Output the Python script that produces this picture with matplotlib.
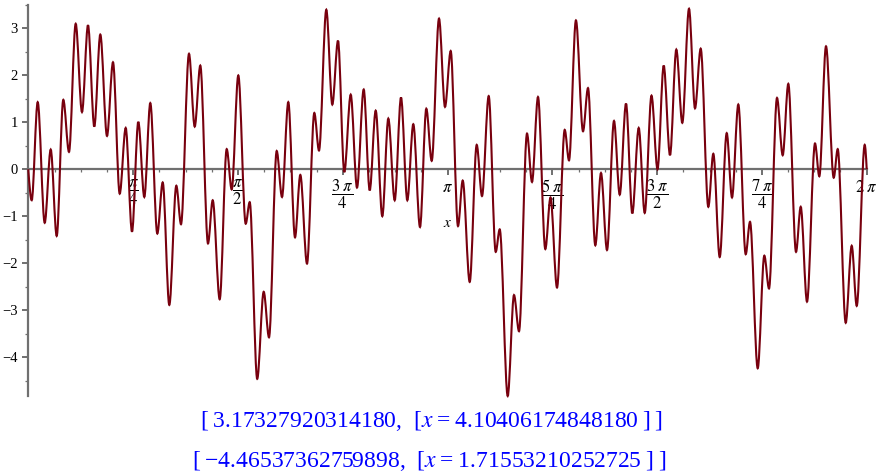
import numpy as np
import matplotlib
matplotlib.use('Agg')
import matplotlib.pyplot as plt
from matplotlib.path import Path
from matplotlib.patches import PathPatch

plt.rcParams['mathtext.fontset'] = 'stix'

# Local extrema of the curve (x in radians)
x_ext = [0.0, 0.0255, 0.0704, 0.1229, 0.1679, 0.2128, 0.2623, 0.3050, 0.3552, 0.4024,
         0.4474, 0.4946, 0.5396, 0.5898, 0.6348, 0.6850, 0.7299, 0.7772, 0.8244, 0.8694,
         0.9143, 0.9668, 1.0073, 1.0567, 1.1092, 1.1444, 1.2043, 1.2471, 1.2890, 1.3467,
         1.3820, 1.4344, 1.4869, 1.5244, 1.5738, 1.6293, 1.6593, 1.7155, 1.7642, 1.8039,
         1.8616, 1.9013, 1.9485, 1.9988, 2.0385, 2.0887, 2.1434, 2.1786, 2.2333, 2.2783,
         2.3210, 2.3682, 2.4162, 2.4634, 2.5136, 2.5586, 2.6035, 2.6530, 2.6980, 2.7459,
         2.7932, 2.8404, 2.8853, 2.9355, 2.9828, 3.0232, 3.0780, 3.1229, 3.1656, 3.2203,
         3.2556, 3.3080, 3.3605, 3.4002, 3.4504, 3.5029, 3.5329, 3.5928, 3.6400, 3.6775,
         3.7375, 3.7749, 3.8199, 3.8746, 3.9136, 3.9623, 4.0200, 4.0522, 4.1041, 4.1572,
         4.1946, 4.2493, 4.2920, 4.3370, 4.3894, 4.4322, 4.4794, 4.5266, 4.5746, 4.6196,
         4.6705, 4.7155, 4.7619, 4.8091, 4.8564, 4.9013, 4.9515, 4.9965, 5.0392, 5.0962,
         5.1337, 5.1816, 5.2341, 5.2738, 5.3210, 5.3765, 5.4087, 5.4664, 5.5159, 5.5511,
         5.6110, 5.6537, 5.6957, 5.7535, 5.7887, 5.8359, 5.8958, 5.9281, 5.9782, 6.0360,
         6.0660, 6.1259, 6.1709, 6.2084, 6.2683, 6.2832]
y_ext = [0.0, -0.66, 1.43, -1.14, 0.42, -1.42, 1.48, 0.37, 3.10, 1.22,
         3.07, 0.91, 2.87, 0.71, 2.28, -0.52, 0.88, -1.33, 1.01, -0.59,
         1.41, -1.37, -0.28, -2.89, -0.35, -1.17, 2.46, 0.91, 2.21, -1.58,
         -0.66, -2.77, 0.43, -0.43, 2.00, -1.16, -0.70, -4.465, -2.61, -3.58,
         0.39, -0.59, 1.43, -1.45, -0.12, -2.01, 1.20, 0.40, 3.40, 1.38,
         2.74, -0.06, 1.59, -0.39, 1.70, -0.45, 1.25, -1.00, 1.08, -0.66,
         1.53, -0.66, 0.96, -1.23, 1.29, 0.18, 3.21, 1.33, 2.52, -1.21,
         -0.24, -2.40, 0.52, -0.57, 1.56, -1.76, -1.28, -4.83, -2.68, -3.45,
         0.76, -0.27, 1.54, -1.70, -0.60, -2.52, 0.84, 0.19, 3.173, 0.81,
         1.73, -1.62, -0.08, -1.72, 1.03, -0.54, 1.40, -0.94, 0.88, -0.93,
         1.57, 0.00, 2.21, 0.30, 2.55, 0.99, 3.42, 1.30, 2.57, -0.80,
         0.33, -1.87, 0.77, -0.60, 1.38, -1.81, -1.12, -4.24, -1.84, -2.54,
         1.52, 0.30, 1.82, -1.76, -0.80, -2.82, 0.55, -0.15, 2.62, -0.18,
         0.43, -3.27, -1.63, -2.91, 0.52, 0.0]

xtick_labels = [r'$\dfrac{\pi}{4}$', r'$\dfrac{\pi}{2}$', r'$\dfrac{3\;\pi}{4}$', r'$\pi$',
                r'$\dfrac{5\;\pi}{4}$', r'$\dfrac{3\;\pi}{2}$', r'$\dfrac{7\;\pi}{4}$', r'$2\;\pi$']
ytick_vals = [-4, -3, -2, -1, 0, 1, 2, 3]
result_lines = ['[\u20093.17327920314180,\u2002[$x$\u2009=\u20094.10406174848180\u2009]\u2009]',
                '[\u2009\u22124.46537362759898,\u2002[$x$\u2009=\u20091.71553210252725\u2009]\u2009]']

W, H = 893, 475
fig = plt.figure(figsize=(W / 100, H / 100), dpi=100)
ax = fig.add_axes([28.3 / W, 1 - 396 / H, 838.4 / W, 391 / H])
ax.set_xlim(0, 2 * np.pi)
ax.set_ylim(-4.83, 3.49)

# smooth curve through the extrema (horizontal tangent at each extremum)
n = len(x_ext)
verts = [(x_ext[0], y_ext[0])]
codes = [Path.MOVETO]
for i in range(n - 1):
    x0, y0, x1, y1 = x_ext[i], y_ext[i], x_ext[i + 1], y_ext[i + 1]
    dx = x1 - x0
    if i == 0:
        c1 = (x0 + dx / 3, y0 + (y1 - y0) * 0.52)
    else:
        c1 = (x0 + dx / 3, y0)
    if i + 1 == n - 1:
        c2 = (x1 - dx / 3, y1 - (y1 - y0) * 0.52)
    else:
        c2 = (x1 - dx / 3, y1)
    verts += [c1, c2, (x1, y1)]
    codes += [Path.CURVE4] * 3
curve = PathPatch(Path(verts, codes), facecolor='none', edgecolor='#78000e',
                  lw=1.5, transform=ax.transData, clip_on=False, zorder=3)
ax.add_patch(curve)

axis_col = '#707070'
for s in ['top', 'right']:
    ax.spines[s].set_visible(False)
ax.spines['bottom'].set_position(('data', 0))
ax.spines['left'].set_position(('data', 0))
for s in ['bottom', 'left']:
    ax.spines[s].set_color(axis_col)
    ax.spines[s].set_linewidth(1.6)
    ax.spines[s].set_zorder(2)

ax.set_xticks([np.pi / 4 * k for k in range(1, 9)])
ax.set_xticklabels(xtick_labels)
ax.set_xticks([np.pi / 16 * k for k in range(1, 33)], minor=True)
ax.set_yticks(ytick_vals)
ax.set_yticklabels([str(v).replace('-', '\u2212') for v in ytick_vals])
ax.set_yticks(np.arange(-4.5, 3.6, 0.5), minor=True)

ax.tick_params(axis='x', which='major', direction='out', length=4.5, width=1.4,
               color=axis_col, pad=1.5, labelsize=12)
ax.tick_params(axis='x', which='minor', direction='out', length=2.2, width=0.9,
               color=axis_col)
ax.tick_params(axis='y', which='major', direction='out', length=4.5, width=1.4,
               color=axis_col, pad=3, labelsize=10.5)
ax.tick_params(axis='y', which='minor', direction='out', length=2.2, width=0.9,
               color=axis_col)
for lab in ax.get_yticklabels():
    lab.set_family('Liberation Serif')
for lab, txt in zip(ax.get_xticklabels(), xtick_labels):
    if 'frac' not in txt:
        lab.set_y(-0.012)

ax.set_xlabel('$x$', fontsize=11, labelpad=2)
ax.patch.set_alpha(0)

fig.text(0.483, 1 - 427 / H, result_lines[0], ha='center', va='baseline',
         color='#0000ff', fontsize=17, family='Liberation Serif')
fig.text(0.481, 1 - 467 / H, result_lines[1], ha='center', va='baseline',
         color='#0000ff', fontsize=17, family='Liberation Serif')

fig.savefig('out.png', dpi=100)
